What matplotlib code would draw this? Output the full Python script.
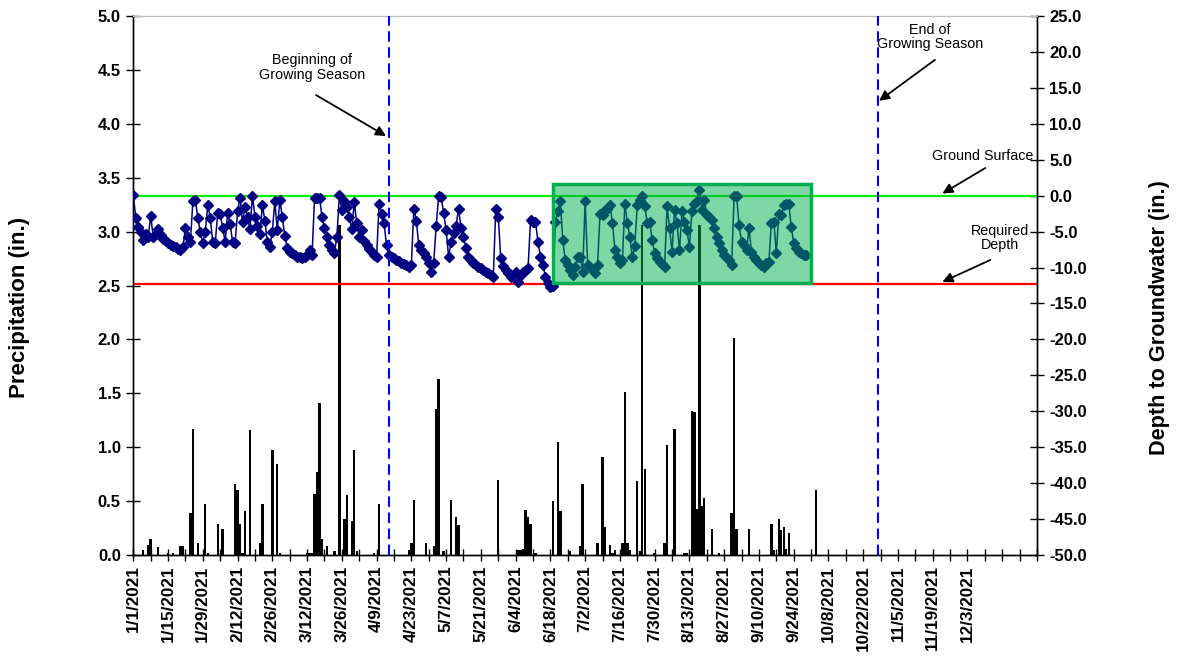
import matplotlib
matplotlib.use("Agg")
import matplotlib.pyplot as plt
import matplotlib.dates as mdates
import numpy as np
import pandas as pd
from matplotlib.patches import Rectangle
from matplotlib.ticker import FormatStrFormatter

plt.rcParams['font.family'] = ['Liberation Sans', 'DejaVu Sans']

# ---------------- data ----------------
gw_start = "1/1/2021"
# daily depth to groundwater (in.), from 1/1/2021
gw_depth = [
    0.1, -3.1, -4.3, -5.0, -6.2, -5.3, -5.8, -2.8, -5.7, -5.3,
    -4.6, -5.5, -6.0, -6.3, -6.6, -6.8, -7.0, -7.2, -7.4, -7.6,
    -7.2, -4.5, -5.7, -6.4, -0.8, -0.6, -3.1, -5.1, -6.6, -5.0,
    -1.3, -3.1, -6.4, -6.6, -2.4, -2.5, -4.5, -6.4, -2.4, -4.0,
    -6.4, -6.6, -2.2, -0.3, -3.7, -1.6, -3.0, -4.7, 0.0, -2.9,
    -4.2, -5.3, -1.3, -3.5, -6.4, -7.1, -5.0, -0.8, -4.8, -0.6,
    -2.9, -5.6, -7.3, -7.8, -8.0, -8.3, -8.5, -8.6, -8.7, -8.5,
    -8.3, -7.6, -8.3, -0.3, -0.3, -0.3, -3.0, -4.5, -5.7, -6.9,
    -7.5, -8.0, -5.7, 0.1, -2.0, -0.7, -1.6, -3.0, -4.7, -0.9,
    -3.8, -5.7, -4.8, -6.3, -6.9, -7.4, -7.8, -8.3, -8.6, -1.1,
    -2.5, -3.8, -6.9, -8.3, -8.5, -8.7, -8.9, -9.1, -9.3, -9.5,
    -9.7, -9.9, -9.6, -1.8, -3.5, -6.9, -7.5, -8.0, -8.6, -9.3,
    -10.6, -9.3, -4.2, 0.0, -0.2, -2.4, -4.8, -8.5, -6.5, -5.2,
    -4.2, -1.8, -4.5, -5.7, -7.3, -8.5, -8.9, -9.3, -9.6, -9.9,
    -10.1, -10.4, -10.6, -10.8, -11.0, -11.3, -1.8, -2.9, -8.7, -9.8,
    -10.3, -10.8, -11.3, -11.0, -10.6, -12.0, -11.0, -10.6, -10.3, -10.1,
    -3.4, -3.6, -3.6, -6.4, -8.5, -9.6, -11.3, -12.2, -12.7, -12.5,
    -3.6, -2.2, -0.8, -6.2, -9.0, -9.6, -10.3, -11.0, -9.9, -8.5,
    -8.5, -10.6, -0.8, -9.6, -9.9, -10.3, -10.8, -9.6, -2.5, -2.7,
    -2.0, -1.8, -1.3, -3.8, -7.6, -8.5, -9.4, -9.0, -1.1, -3.8,
    -5.7, -8.5, -7.0, -1.3, -0.6, -0.1, -1.5, -3.8, -3.6, -6.2,
    -8.0, -8.7, -9.2, -9.5, -9.9, -1.5, -4.5, -7.8, -2.0, -3.8,
    -7.6, -2.2, -3.6, -4.8, -7.1, -2.2, -1.1, -0.8, 0.8, -2.0,
    -0.6, -2.7, -2.9, -3.4, -4.5, -5.7, -6.6, -7.6, -8.3, -8.7,
    -9.0, -9.6, -0.1, -0.1, -4.1, -6.4, -6.9, -7.6, -4.5, -7.8,
    -8.5, -9.0, -9.3, -9.6, -9.9, -9.4, -9.2, -3.8, -3.6, -8.0,
    -2.5, -2.7, -1.3, -1.2, -1.1, -4.3, -6.6, -7.3, -7.8, -8.0,
    -8.2, -8.3,
]

precip_dates = [
    "1/1", "1/5", "1/7", "1/8", "1/11", "1/15", "1/17", "1/20", "1/21", "1/24",
    "1/25", "1/27", "1/30", "1/31", "2/4", "2/6", "2/11", "2/12", "2/13", "2/14",
    "2/15", "2/17", "2/21", "2/22", "2/26", "2/28", "3/1", "3/12", "3/13", "3/14",
    "3/15", "3/16", "3/17", "3/18", "3/20", "3/23", "3/25", "3/27", "3/28", "3/30",
    "3/31", "4/1", "4/8", "4/10", "4/22", "4/23", "4/24", "4/29", "5/2", "5/3",
    "5/4", "5/6", "5/9", "5/11", "5/12", "5/28", "6/5", "6/6", "6/7", "6/8",
    "6/9", "6/10", "6/12", "6/19", "6/21", "6/22", "6/26", "6/30", "7/1", "7/7",
    "7/9", "7/10", "7/12", "7/13", "7/14", "7/17", "7/18", "7/19", "7/20", "7/23",
    "7/24", "7/25", "7/26", "7/30", "8/3", "8/4", "8/7", "8/11", "8/12", "8/14",
    "8/15", "8/16", "8/17", "8/18", "8/19", "8/22", "8/25", "8/30", "8/31", "9/1",
    "9/6", "9/15", "9/16", "9/18", "9/19", "9/20", "9/21", "9/22", "10/3",
]
precip_in = [
    1.48, 0.05, 0.09, 0.15, 0.07, 0.02, 0.02, 0.08, 0.08, 0.39,
    1.17, 0.11, 0.47, 0.02, 0.29, 0.24, 0.66, 0.60, 0.29, 0.02,
    0.41, 1.16, 0.11, 0.47, 0.97, 0.84, 0.02, 0.02, 0.02, 0.02,
    0.57, 0.77, 1.41, 0.15, 0.08, 0.04, 3.06, 0.33, 0.56, 0.32,
    0.97, 0.04, 0.02, 0.47, 0.05, 0.11, 0.51, 0.11, 0.08, 1.35,
    1.63, 0.04, 0.51, 0.35, 0.28, 0.70, 0.05, 0.05, 0.06, 0.42,
    0.35, 0.29, 0.02, 0.50, 1.05, 0.41, 0.04, 0.08, 0.66, 0.11,
    0.91, 0.26, 0.09, 0.02, 0.05, 0.11, 1.51, 0.11, 0.05, 0.69,
    0.04, 3.06, 0.80, 0.02, 0.11, 1.02, 1.17, 0.02, 0.02, 1.34,
    1.33, 0.43, 3.06, 0.45, 0.53, 0.24, 0.02, 0.39, 2.01, 0.24,
    0.24, 0.29, 0.05, 0.33, 0.23, 0.26, 0.06, 0.20, 0.60,
]

ground_surface = 0.0
required_depth = -12.3
season_begin = "4/14/2021"
season_end = "10/28/2021"
box_start, box_end = "6/19/2021", "10/1/2021"
box_low, box_high = -12.2, 1.6

# ---------------- figure ----------------
W, H = 1183, 661
fig = plt.figure(figsize=(W / 100, H / 100), dpi=100)
L, R, T, B = 133.3, 1037.0, 16.0, 555.0
ax = fig.add_axes([L / W, 1 - B / H, (R - L) / W, (B - T) / H])

start = pd.to_datetime(gw_start, format="%m/%d/%Y")
gw_x = pd.date_range(start, periods=len(gw_depth), freq="D")
p_x = pd.to_datetime([d + "/2021" for d in precip_dates], format="%m/%d/%Y")

ax.bar(p_x, precip_in, width=0.95, color="black", zorder=2)
ax.set_ylim(0, 5)
ax.set_yticks(np.arange(0, 5.01, 0.5))
ax.yaxis.set_major_formatter(FormatStrFormatter("%.1f"))
ax.set_xlim(start, start + pd.Timedelta(days=364))

ticks = pd.date_range(start, periods=53, freq="7D")
last_label = pd.to_datetime("12/3/2021", format="%m/%d/%Y")
labels = [f"{t.month}/{t.day}/{t.year}" if (i % 2 == 0 and t <= last_label) else ""
          for i, t in enumerate(ticks)]
ax.set_xticks(ticks)
ax.set_xticklabels(labels, rotation=90, fontsize=12.3, fontweight="bold")
ax.tick_params(axis="x", direction="inout", length=9, width=1, pad=3)
ax.tick_params(axis="y", direction="inout", length=10, width=1, labelsize=12, pad=4)
for lbl in ax.get_yticklabels():
    lbl.set_fontweight("bold")

ax2 = ax.twinx()
ax2.set_ylim(-50, 25)
ax2.set_yticks(np.arange(-50, 25.1, 5))
ax2.yaxis.set_major_formatter(FormatStrFormatter("%.1f"))
ax2.tick_params(axis="y", direction="inout", length=10, width=1, labelsize=12, pad=4)
for lbl in ax2.get_yticklabels():
    lbl.set_fontweight("bold")

ax2.axhline(ground_surface, color="#00EE00", lw=1.6, zorder=2)
ax2.axhline(required_depth, color="#FF0000", lw=1.6, zorder=2)
ax2.plot(gw_x, gw_depth, color="#000080", lw=1.1, marker="D", markersize=5,
         markerfacecolor="#000080", markeredgecolor="#000080", zorder=3)

for d in (season_begin, season_end):
    ax2.axvline(pd.to_datetime(d, format="%m/%d/%Y"), color="#0000FF", lw=1.5,
                ls=(0, (5, 2.7)), zorder=4)

bs = pd.to_datetime(box_start, format="%m/%d/%Y")
be = pd.to_datetime(box_end, format="%m/%d/%Y")
bx0, bx1 = mdates.date2num(bs), mdates.date2num(be)
ax2.add_patch(Rectangle((bx0, box_low), bx1 - bx0, box_high - box_low,
                        facecolor=(0.0, 0.69, 0.31, 0.5), edgecolor="#00B050",
                        lw=2.5, zorder=5))

for a in (ax, ax2):
    a.spines["top"].set_color("#BFBFBF")
    for s in ("left", "right", "bottom"):
        a.spines[s].set_color("black")
        a.spines[s].set_linewidth(1.0)
ax.patch.set_visible(False)

# annotations
def d2n(day):
    return mdates.date2num(start + pd.Timedelta(days=day))

arrow = dict(arrowstyle="-|>", color="black", lw=1.3, mutation_scale=15,
             shrinkA=0, shrinkB=0)
fs = 10.3
ax2.text(d2n(72), 17.8, "Beginning of\nGrowing Season", ha="center", va="center",
         fontsize=fs, linespacing=1.05)
ax2.annotate("", xy=(d2n(101.8), 8.3), xytext=(d2n(73.6), 14.0), arrowprops=arrow)
ax2.text(d2n(321), 22.1, "End of\nGrowing Season", ha="center", va="center",
         fontsize=fs, linespacing=1.05)
ax2.annotate("", xy=(d2n(300.4), 13.2), xytext=(d2n(322.9), 18.9), arrowprops=arrow)
ax2.text(d2n(342.0), 5.5, "Ground Surface", ha="center", va="center", fontsize=fs)
ax2.annotate("", xy=(d2n(325.9), 0.3), xytext=(d2n(343.2), 3.85), arrowprops=arrow)
ax2.text(d2n(349.2), -5.9, "Required\nDepth", ha="center", va="center",
         fontsize=fs, linespacing=1.05)
ax2.annotate("", xy=(d2n(325.9), -12.0), xytext=(d2n(345.2), -8.95), arrowprops=arrow)

fig.text(20 / W, 1 - 307 / H, "Precipitation (in.)", rotation=90, ha="center",
         va="center", fontsize=16, fontweight="bold")
fig.text(1160 / W, 1 - 318 / H, "Depth to Groundwater (in.)", rotation=90,
         ha="center", va="center", fontsize=15.6, fontweight="bold")

fig.savefig("out.png", dpi=100)
